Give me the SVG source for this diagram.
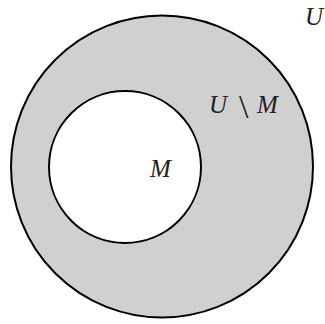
<svg xmlns="http://www.w3.org/2000/svg" width="325" height="324" viewBox="0 0 325 324">
<style>
.set{stroke:#000;stroke-width:2}
.lbl{font-family:"Liberation Serif","DejaVu Serif",serif;font-size:25px;font-style:italic;fill:#222}
.up{font-style:normal;font-size:34px}
</style>
<rect width="325" height="324" fill="#fff"/>
<g id="U">
<circle class="set" cx="162" cy="166.5" r="151" fill="#d0d0d0"/>
<text class="lbl" x="305" y="25">U</text>
</g>
<g id="M">
<circle class="set" cx="125" cy="167" r="76" fill="#fff"/>
<text class="lbl" x="150" y="177">M</text>
</g>
<g id="UminusM">
<text class="lbl" x="209" y="113">U</text>
<text class="lbl up" x="239" y="118">\</text>
<text class="lbl" x="257" y="113">M</text>
</g>
<g id="connectors"/>
</svg>
